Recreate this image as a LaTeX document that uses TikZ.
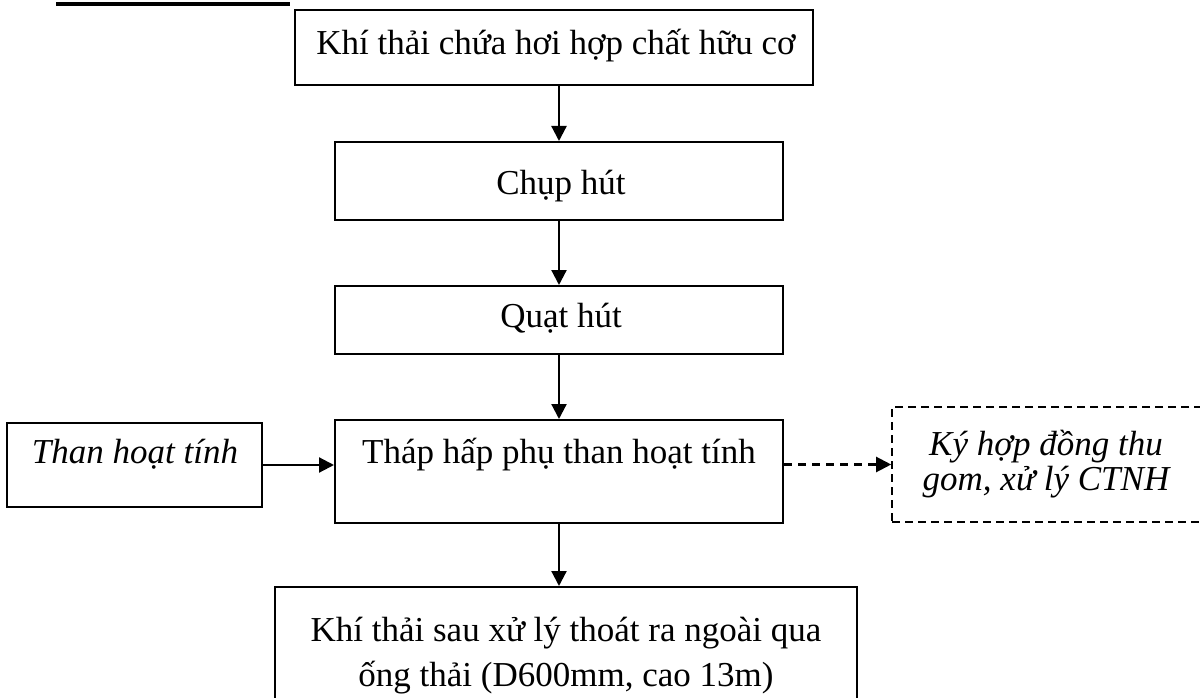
\documentclass[tikz,border=0pt]{standalone}
\usepackage{fontspec}
\setmainfont{Liberation Serif}
\usetikzlibrary{arrows.meta}
\begin{document}
\begin{tikzpicture}[x=1pt,y=-1pt,
 box/.style={draw,line width=2pt,inner sep=0pt},
 dbox/.style={draw,line width=1.6pt,dash pattern=on 8pt off 5pt,inner sep=0pt},
 lbl/.style={font=\fontsize{35}{45}\selectfont,anchor=base,inner sep=0pt,align=center},
 itl/.style={font=\fontsize{35}{35}\selectfont\itshape,anchor=base,inner sep=0pt,align=center},
 arr/.style={line width=2.2pt,-{Triangle[length=15pt,width=15pt]}},
 darr/.style={line width=2.2pt,dash pattern=on 8pt off 6pt,-{Triangle[length=15pt,width=15pt]}}]
\clip (0,0) rectangle (1200,698);
\draw[line width=3.5pt] (56,4) -- (290,4);
% boxes
\node[box,minimum width=518pt,minimum height=75pt] (b1) at (554,47.5) {};
\node[box,minimum width=448pt,minimum height=78pt] (b2) at (559,181) {};
\node[box,minimum width=448pt,minimum height=68pt] (b3) at (559,320) {};
\node[box,minimum width=448pt,minimum height=103pt] (b4) at (559,471.5) {};
\node[box,minimum width=582pt,minimum height=153pt] (b5) at (566,663.5) {};
\node[box,minimum width=255pt,minimum height=84pt] (than) at (134.5,465) {};
\node[dbox,minimum width=338pt,minimum height=115pt] (ctnh) at (1061,464.5) {};
% texts
\node[lbl] (t1) at (556,55) {Khí thải chứa hơi hợp chất hữu cơ};
\node[lbl] (t2) at (561,194) {Chụp hút};
\node[lbl] (t3) at (561,327) {Quạt hút};
\node[lbl] (t4) at (559,463) {Tháp hấp phụ than hoạt tính};
\node[lbl] (t5) at (566,686) {Khí thải sau xử lý thoát ra ngoài qua\\ống thải (D600mm, cao 13m)};
\node[itl] (t6) at (135,463) {Than hoạt tính};
\node[itl] (t7) at (1046,490) {Ký hợp đồng thu\\gom, xử lý CTNH};
% connectors
\draw[arr] (b1.south -| b2.north) -- (b2.north);
\draw[arr] (b2.south) -- (b3.north);
\draw[arr] (b3.south) -- (b4.north);
\draw[arr] (b4.south) -- (b4.south |- b5.north);
\draw[arr] (than.east) -- (than.east -| b4.west);
\draw[darr] (ctnh.west -| b4.east) -- (ctnh.west);
\end{tikzpicture}
\end{document}
